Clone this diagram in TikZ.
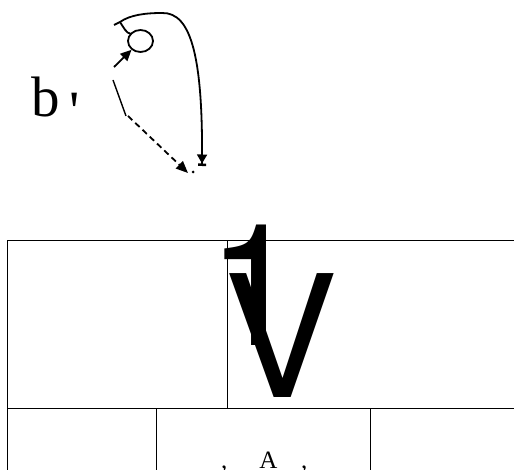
\documentclass[tikz,border=0pt]{standalone}
\usepackage{fontspec}
\newfontfamily\tnr{Liberation Serif}
\newfontfamily\arialf{TeX Gyre Heros}
\usetikzlibrary{arrows.meta,shapes.geometric}
\tikzset{
  grid/.style={line width=1pt, line cap=rect},
  stroke/.style={line width=1.8pt},
  big/.style={anchor=base, inner sep=0pt, font=\arialf\fontsize{170}{170}\selectfont},
  serif/.style={inner sep=0pt, font=\tnr\fontsize{25}{25}\selectfont},
}
\begin{document}
\begin{tikzpicture}[x=1pt,y=-1pt]
\useasboundingbox (0,0) rectangle (514,470);
% table lines
\coordinate (g1) at (7.5,480);
\coordinate (g2) at (7.5,240.5);
\coordinate (g3) at (520,240.5);
\coordinate (g4) at (7.5,408);
\coordinate (g5) at (520,408);
\coordinate (g6) at (227.5,240.5);
\coordinate (g7) at (227.5,408);
\coordinate (g8) at (156.5,408);
\coordinate (g9) at (156.5,480);
\coordinate (g10) at (370.5,408);
\coordinate (g11) at (370.5,480);
\draw[grid] (g1) -- (g2) -- (g3);
\draw[grid] (g4) -- (g5);
\draw[grid] (g6) -- (g7);
\draw[grid] (g8) -- (g9);
\draw[grid] (g10) -- (g11);
% big glyphs
\node[big] (one) at (254.5,345) {1};
\node[big] (vee) at (281.5,397) {V};
% bottom text
\node[serif, anchor=base] (A) at (268.5,468) {A};
\node[serif, anchor=base west] (cm1) at (221,468) {,};
\node[serif, anchor=base west] (cm2) at (301,468) {,};
% b'
\node[anchor=base west, inner sep=0pt, font=\tnr\fontsize{57}{57}\selectfont] (bp) at (31,117) {b\hspace{10pt}\raisebox{-14pt}{'}};
% loop sketch
\node[draw, stroke, ellipse, minimum width=25pt, minimum height=22pt, inner sep=0pt] (loop) at (140.5,41) {};
\coordinate (a0) at (114,67);
\draw[stroke, -{Triangle[length=11pt,width=10pt]}] (a0) -- (loop);
\coordinate (c0) at (114,25);
\coordinate (c1) at (120,22);
\coordinate (ctop) at (162,13);
\coordinate (cend) at (202,166);
\coordinate (cj) at (131,34);
\draw[stroke, -{Triangle[length=9pt,width=10pt] Bar[width=8pt,line width=2.5pt]}]
  (c0) -- (c1) .. controls (130,15) and (145,13) .. (ctop)
  .. controls (192,12) and (203,60) .. (cend);
\draw[stroke] (c1) .. controls (124,28) and (126,33) .. (cj);
\coordinate (s0) at (113,80);
\coordinate (s1) at (126,116);
\draw[line width=1.4pt] (s0) -- (s1);
\coordinate (d0) at (128,116);
\coordinate (d1) at (188,173);
\draw[stroke, dash pattern=on 6pt off 4pt, -{Triangle[length=12pt,width=10pt]}] (d0) -- (d1);
\fill (193,172) circle (1.5pt);
\end{tikzpicture}
\end{document}
